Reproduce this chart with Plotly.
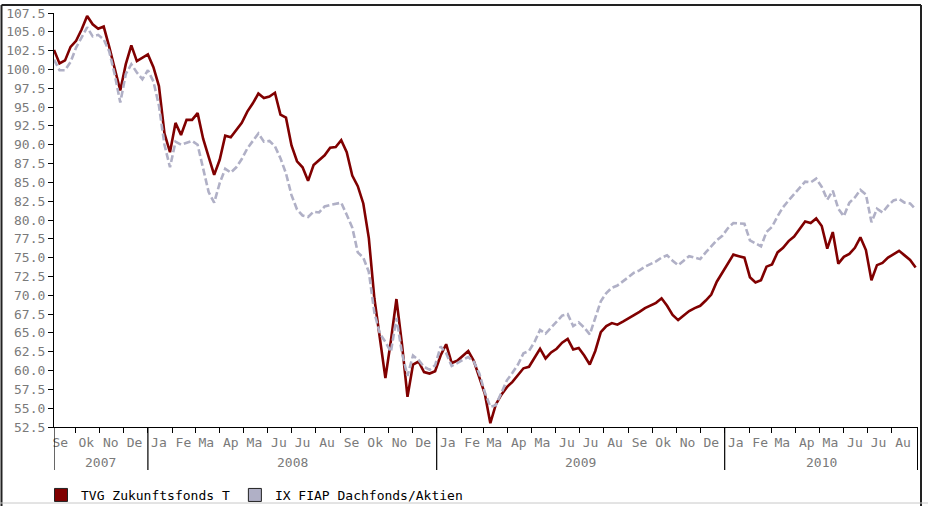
import pandas as pd
import plotly.graph_objects as go

# ---------------- data ----------------
start_date = "2007-09-04"
end_date = "2010-09-03"
dates = pd.date_range(start_date, periods=157, freq="7D")

tvg = [
    102.6, 100.8, 101.2, 103.0, 103.8, 105.3, 107.1, 106.0, 105.4, 105.7,
    103.0, 100.1, 97.2, 100.7, 103.2, 101.1, 101.5, 102.0, 100.3, 97.8,
    91.5, 89.0, 92.9, 91.3, 93.3, 93.3, 94.2, 90.8, 88.4, 86.0,
    88.0, 91.2, 91.0, 92.0, 92.9, 94.4, 95.5, 96.8, 96.2, 96.4,
    96.9, 94.0, 93.6, 89.9, 87.8, 87.0, 85.2, 87.3, 87.9, 88.6,
    89.6, 89.7, 90.6, 89.0, 85.9, 84.5, 82.2, 77.6, 69.6, 64.5,
    59.0, 64.0, 69.5, 63.5, 56.5, 60.8, 61.2, 59.8, 59.6, 59.9,
    62.0, 63.5, 61.0, 61.3, 62.0, 62.6, 61.3, 59.0, 56.9, 53.0,
    55.5, 56.8, 57.8, 58.5, 59.4, 60.3, 60.5, 61.8, 62.9, 61.6,
    62.4, 62.9, 63.7, 64.2, 62.8, 63.0, 62.0, 60.8, 62.6, 65.1,
    65.9, 66.3, 66.1, 66.5, 66.9, 67.3, 67.8, 68.3, 68.6, 69.0,
    69.6, 68.6, 67.4, 66.7, 67.3, 67.9, 68.3, 68.6, 69.3, 70.1,
    71.8, 73.0, 74.1, 75.4, 75.2, 75.0, 72.4, 71.7, 72.0, 73.8,
    74.1, 75.7, 76.3, 77.2, 77.8, 78.8, 79.8, 79.6, 80.2, 79.2,
    76.2, 78.4, 74.2, 75.1, 75.5, 76.3, 77.7, 76.0, 72.0, 74.0,
    74.3, 75.0, 75.4, 75.9, 75.3, 74.7, 73.7,
]

fiap = [
    101.3, 99.9, 99.9, 101.0, 102.9, 104.2, 105.6, 104.4, 104.6, 104.0,
    102.4, 99.3, 95.6, 99.4, 100.7, 99.6, 98.7, 99.9, 98.4, 95.2,
    90.0, 87.0, 90.4, 90.0, 90.2, 90.5, 90.0, 87.0, 83.7, 82.3,
    84.9, 86.8, 86.3, 87.0, 88.1, 89.5, 90.5, 91.5, 90.4, 90.5,
    89.8, 88.2, 86.2, 83.3, 81.4, 80.6, 80.4, 81.1, 81.0, 81.8,
    82.0, 82.2, 82.3, 80.7, 79.0, 75.7, 75.0, 73.1, 67.7, 64.9,
    63.8, 62.5, 67.0, 62.3, 59.3, 62.0, 61.4, 60.5, 60.1, 60.7,
    63.2, 62.3, 60.6, 61.0, 61.4, 61.8, 61.2, 59.6, 57.1, 55.2,
    55.4, 57.0, 58.7, 59.7, 60.8, 62.3, 62.6, 63.8, 65.4, 64.9,
    65.7, 66.4, 67.3, 67.5, 65.9, 66.4, 65.7, 64.8, 67.0, 69.2,
    70.3, 71.0, 71.3, 71.8, 72.4, 73.0, 73.3, 73.8, 74.1, 74.5,
    75.0, 75.3, 74.6, 74.0, 74.6, 75.2, 75.0, 74.8, 75.7, 76.5,
    77.3, 77.9, 78.9, 79.6, 79.6, 79.5, 77.3, 76.9, 76.5, 78.4,
    79.1, 80.5, 81.7, 82.6, 83.4, 84.2, 85.1, 85.0, 85.5, 84.4,
    82.7, 83.9, 81.5, 80.5, 82.3, 83.0, 84.0, 83.4, 79.7, 81.5,
    81.0, 81.9, 82.6, 82.8, 82.3, 82.2, 81.4,
]

series_names = ["TVG Zukunftsfonds T", "IX FIAP Dachfonds/Aktien"]
month_abbr = ["Ja", "Fe", "Ma", "Ap", "Ma", "Ju", "Ju", "Au", "Se", "Ok", "No", "De"]
years = [2007, 2008, 2009, 2010]
y_ticks = [52.5 + 2.5 * i for i in range(23)]

# ---------------- styles ----------------
RED = "#800000"
GREY = "#b0b0c6"
FONT = "DejaVu Sans Mono"
LABEL_GREY = "#7a7a7a"

t0 = pd.Timestamp(start_date)
t1 = pd.Timestamp(end_date)

# month boundaries (minor ticks) and month label positions
month_starts = pd.date_range("2007-10-01", "2010-08-01", freq="MS")
label_pos = [pd.Timestamp("2007-09-12")] + [m + pd.Timedelta(days=14) for m in month_starts]
label_txt = ["Se"] + [month_abbr[m.month - 1] for m in month_starts]

fig = go.Figure()
fig.add_trace(go.Scatter(x=dates, y=tvg, mode="lines", name=series_names[0],
                         line=dict(color=RED, width=2.6), showlegend=False,
                         hoverinfo="skip"))
fig.add_trace(go.Scatter(x=dates, y=fiap, mode="lines", name=series_names[1],
                         line=dict(color=GREY, width=2.6, dash="7px,3px"),
                         showlegend=False, hoverinfo="skip"))
# legend entries (square swatches)
for nm, col in zip(series_names, [RED, GREY]):
    fig.add_trace(go.Scatter(x=[None], y=[None], mode="markers", name=nm,
                             marker=dict(symbol="square", size=13, color=col,
                                         line=dict(color="#222", width=1))))

# ---------------- layout geometry ----------------
L, R, T, B = 54, 918, 13, 427
W, H = 928, 506
pw, ph = R - L, B - T


def px_x(p):
    return (p - L) / pw


def px_y(p):
    return (B - p) / ph


shapes = []
# year separators, start and end of axis
sep_dates = [t0] + [pd.Timestamp(f"{y}-01-01") for y in years[1:]] + [t1]
for i, d in enumerate(sep_dates):
    shapes.append(dict(type="line", xref="x", yref="paper", x0=d, x1=d,
                       y0=0, y1=px_y(470),
                       line=dict(color="#000", width=2 if i == len(sep_dates) - 1 else 1.2)))
# outer frame
shapes.append(dict(type="line", xref="paper", yref="paper", x0=px_x(1.5), x1=px_x(921),
                   y0=px_y(5), y1=px_y(5), line=dict(color="#222", width=2)))
shapes.append(dict(type="line", xref="paper", yref="paper", x0=px_x(1.5), x1=px_x(1.5),
                   y0=px_y(5), y1=px_y(506), line=dict(color="#222", width=2)))
shapes.append(dict(type="line", xref="paper", yref="paper", x0=px_x(921), x1=px_x(921),
                   y0=px_y(5), y1=px_y(506), line=dict(color="#222", width=2)))
shapes.append(dict(type="line", xref="paper", yref="paper", x0=px_x(0), x1=px_x(928),
                   y0=px_y(503), y1=px_y(503), line=dict(color="#c8c8c8", width=1)))

# year labels centred on visible part of each year
annotations = []
for y in years:
    a = max(t0, pd.Timestamp(f"{y}-01-01"))
    b = min(t1, pd.Timestamp(f"{y + 1}-01-01"))
    annotations.append(dict(x=a + (b - a) / 2, y=px_y(462), xref="x", yref="paper",
                            text=str(y), showarrow=False, yanchor="middle",
                            font=dict(family=FONT, size=13, color=LABEL_GREY)))

fig.update_layout(
    template="none",
    width=W, height=H,
    margin=dict(l=L, r=W - R, t=T, b=H - B, autoexpand=False),
    paper_bgcolor="white", plot_bgcolor="white",
    font=dict(family=FONT, size=13, color=LABEL_GREY),
    shapes=shapes, annotations=annotations,
    legend=dict(orientation="h", xref="container", yref="container",
                x=41 / W, xanchor="left", y=(H - 495) / H, yanchor="middle",
                font=dict(family=FONT, size=13, color="#000"), bgcolor="rgba(0,0,0,0)",
                borderwidth=0, itemclick=False),
    xaxis=dict(type="date", range=[t0, t1], showgrid=False, zeroline=False, automargin=False,
               showline=True, linecolor="#000", linewidth=1.2,
               tickmode="array", tickvals=label_pos, ticktext=label_txt,
               ticks="outside", ticklen=3, tickcolor="rgba(0,0,0,0)",
               tickfont=dict(family=FONT, size=13, color=LABEL_GREY),
               minor=dict(tickmode="array", tickvals=list(month_starts), ticks="outside",
                          ticklen=5, tickcolor="#000", tickwidth=1.2, showgrid=False)),
    yaxis=dict(range=[52.5, 107.5], tickmode="array", tickvals=y_ticks, automargin=False,
               ticktext=[f"{v:.1f}" for v in y_ticks], showgrid=False, zeroline=False,
               showline=True, linecolor="#000", linewidth=1.2,
               ticks="outside", ticklen=5, tickcolor="#000", tickwidth=1.2,
               tickfont=dict(family=FONT, size=13, color=LABEL_GREY)),
)

fig.write_html("out.html", config={"displayModeBar": False},
               post_script="document.body.style.margin='0';document.body.style.overflow='hidden';")
